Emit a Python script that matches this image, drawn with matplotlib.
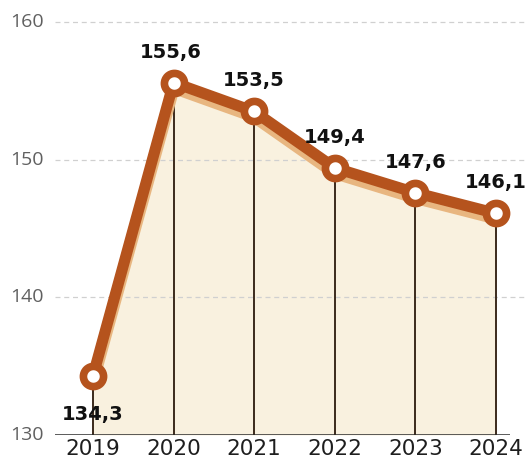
import matplotlib.pyplot as plt
import matplotlib.transforms as mtransforms

years = [2019, 2020, 2021, 2022, 2023, 2024]
values = [134.3, 155.6, 153.5, 149.4, 147.6, 146.1]
labels = ["134,3", "155,6", "153,5", "149,4", "147,6", "146,1"]
yticks = [130, 140, 150, 160]

line_col = "#b5531d"
shadow_col = "#e8b680"
fill_col = "#f9f1df"
stem_col = "#3b2a1c"

fig = plt.figure(figsize=(5.28, 4.65), dpi=100)
ax = fig.add_axes([55 / 528, 30 / 465, 455 / 528, 413 / 465])
ax.set_xlim(2018.529, 2024.174)
ax.set_ylim(130, 160)

# horizontal guides
for y in yticks[1:]:
    ax.axhline(y, xmin=0, xmax=1.035, color="#d0d0d0", lw=0.9,
               ls=(0, (4, 3)), clip_on=False, zorder=1)

# area under the curve
ax.fill_between(years, values, 130, color=fill_col, zorder=0, lw=0)

# stems from each point down to the base
ax.vlines(years, 130, values, color=stem_col, lw=1.4, zorder=2)

# soft shadow below the line
shadow = mtransforms.offset_copy(ax.transData, fig=fig, x=0, y=-5, units="dots")
ax.plot(years, values, color=shadow_col, lw=9, solid_capstyle="round",
        solid_joinstyle="round", transform=shadow, zorder=3)
ax.plot(years, values, color=line_col, lw=8, solid_capstyle="round",
        solid_joinstyle="round", zorder=4)
ax.plot(years, values, ls="none", marker="o", ms=14.5, mfc="white",
        mec=line_col, mew=5.5, zorder=5)

for i, (x, v, t) in enumerate(zip(years, values, labels)):
    dy = -28 if i == 0 else 22
    dx = -2 if i == 1 else 0
    ax.annotate(t, (x, v), xytext=(dx, dy), textcoords="offset points",
                ha="center", va="center", fontsize=14, fontweight="bold",
                family="DejaVu Sans", color="#111111", zorder=6)

# base line
ax.axhline(130, xmin=0, xmax=1, color="#2a2a2a", lw=1.8, zorder=6)

ax.set_xticks(years)
ax.set_xticklabels([str(y) for y in years], fontsize=15.5, family="DejaVu Sans",
                   color="#1e1e1e")
ax.tick_params(axis="x", length=0, pad=3)
ax.set_yticks([])
for y in yticks:
    ax.text(-45 / 455, y, str(y), transform=ax.get_yaxis_transform(),
            ha="left", va="center", fontsize=14, family="Open Sans",
            color="#606060")

for s in ax.spines.values():
    s.set_visible(False)

fig.savefig("out.png", dpi=100)
